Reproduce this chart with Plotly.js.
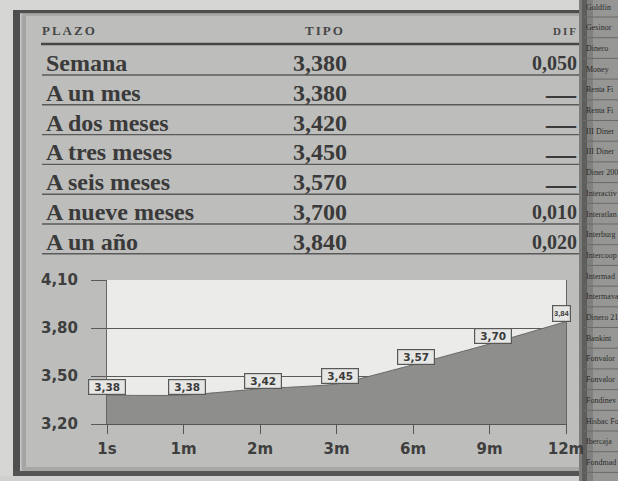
<!DOCTYPE html>
<html>
<head>
<meta charset="utf-8">
<script src="https://cdn.plot.ly/plotly-3.0.1.min.js"></script>
<style>
html,body{margin:0;padding:0;background:#d5d5d3;}
#chart{width:618px;height:481px;}
.annotation[data-index="0"] text,.annotation[data-index="1"] text,.annotation[data-index="2"] text{letter-spacing:2px;}
</style>
</head>
<body>
<div id="chart"></div>
<script>
// ---- data ----
var plazos = ["Semana","A un mes","A dos meses","A tres meses","A seis meses","A nueve meses","A un año"];
var tipos = [3.38, 3.38, 3.42, 3.45, 3.57, 3.70, 3.84];
var difs = ["0,050","—","—","—","—","0,010","0,020"];
var cats = ["1s","1m","2m","3m","6m","9m","12m"];
var yTicks = [3.2, 3.5, 3.8, 4.1];
var yTickText = ["3,20","3,50","3,80","4,10"];
var headers = ["PLAZO","TIPO","DIF"];
var stripNames = ["Goldfin","Gesinor","Dinero","Money","Renta Fi","Renta Fi","III Diner","III Diner","Diner 200","Interactiv","Interatlan","Interburg","Intercoop","Intermad","Intermava","Dinero 21","Bankint","Fonvalor","Fonvalor","Fondinev","Hisbac Fo","Ibercaja","Fondmad"];

// ---- pixel helpers (plot area: x 107..566, y 280..424) ----
var L=107, R=566, T=280, B=424;
function px(x){return (x-L)/(R-L);}
function py(y){return (B-y)/(B-T);}
function rect(x0,y0,x1,y1,c){return {type:'rect',xref:'paper',yref:'paper',x0:px(x0),x1:px(x1),y0:py(y1),y1:py(y0),fillcolor:c,line:{width:0},layer:'below'};}
function hline(x0,x1,y,c,w){return {type:'line',xref:'paper',yref:'paper',x0:px(x0),x1:px(x1),y0:py(y),y1:py(y),line:{color:c,width:w},layer:'below'};}
function comma(v,d){return v.toFixed(d).replace('.',',');}

var shapes = [];
// outer paper
shapes.push(rect(0,0,13,481,'#d5d5d3'));
shapes.push(rect(0,0,618,10,'#d5d5d3'));
shapes.push(rect(0,476,618,481,'#d0d0ce'));
// frame
shapes.push(rect(13,10,579,13.5,'#4e4e4e'));
shapes.push(rect(13,10,20,476,'#4e4e4e'));
shapes.push(rect(13,471,579,476,'#555555'));
shapes.push(rect(20,13.5,26,471,'#a4a4a2'));
shapes.push(rect(20,13.5,579,16,'#a8a8a6'));
shapes.push(rect(20,467,579,471,'#a8a8a6'));
shapes.push(rect(20,13.5,21.5,471,'#c8c8c6'));
// header line
shapes.push(hline(41,580,44,'#474747',2.5));
// row lines
for (var i=0;i<plazos.length;i++){
  shapes.push(hline(42,579,75+29.8*i,'#5a5a5a',1.4));
}
// right strip
shapes.push(rect(579,0,618,481,'#969694'));
shapes.push(rect(579,0,582,481,'#7c7c7a'));
shapes.push(rect(582,0,587,481,'#5e5e5c'));
shapes.push(rect(587,0,593,481,'#80807e'));
for (var k=0;k<stripNames.length;k++){
  shapes.push(hline(583,618,17+20.7*k,'#6a6a68',1));
}

var annotations = [];
var hFont = {family:'Liberation Serif',size:13,color:'#474747',weight:'bold'};
annotations.push({text:headers[0],xref:'paper',yref:'paper',x:px(45),y:py(30),xanchor:'left',yanchor:'middle',showarrow:false,font:hFont});
annotations.push({text:headers[1],xref:'paper',yref:'paper',x:px(325),y:py(30),xanchor:'center',yanchor:'middle',showarrow:false,font:hFont});
annotations.push({text:headers[2],xref:'paper',yref:'paper',x:px(577),y:py(31),xanchor:'right',yanchor:'middle',showarrow:false,
  font:{family:'Liberation Serif',size:11,color:'#474747',weight:'bold'}});

var rFont = {family:'Liberation Serif',size:24,color:'#3a3a3a',weight:'bold'};
var dFont = {family:'Liberation Serif',size:20,color:'#3a3a3a',weight:'bold'};
for (var i=0;i<plazos.length;i++){
  var yc = 63+29.8*i;
  annotations.push({text:plazos[i],xref:'paper',yref:'paper',x:px(44),y:py(yc),xanchor:'left',yanchor:'middle',showarrow:false,font:rFont});
  annotations.push({text:comma(tipos[i],3),xref:'paper',yref:'paper',x:px(320),y:py(yc),xanchor:'center',yanchor:'middle',showarrow:false,font:rFont});
  var isDash = difs[i]==="—";
  annotations.push({text:difs[i],xref:'paper',yref:'paper',x:px(579),y:py(yc+(isDash?1:0)),xanchor:'right',yanchor:'middle',showarrow:false,
    font:isDash?{family:'Liberation Serif',size:30,color:'#3a3a3a',weight:'bold'}:dFont});
}
for (var k=0;k<stripNames.length;k++){
  annotations.push({text:stripNames[k],xref:'paper',yref:'paper',x:px(584),y:py(7+20.7*k),xanchor:'left',yanchor:'middle',showarrow:false,
    font:{family:'Liberation Serif',size:8,color:'#2c2c2a'}});
}
// value labels on chart
for (var j=0;j<cats.length;j++){
  var last = (j===cats.length-1);
  annotations.push({text:comma(tipos[j],2),xref:'x',yref:'y',x:j,y:tipos[j],xanchor:'center',yanchor:'bottom',showarrow:false,
    xshift: last?-5:(j===0?0:3),
    bgcolor:'#e6e6e4',bordercolor:'#585858',borderwidth:1.2,borderpad:1,
    width: last?15:34, height: last?13:12,
    font:{family: last?'Liberation Sans':'DejaVu Sans',size: last?7.5:10.5,color:'#3a3a3a',weight:'bold'}});
}

var trace = {
  x: cats, y: tipos, type:'scatter', mode:'lines',
  fill:'tozeroy', fillcolor:'#8e8e8c',
  line:{color:'#6a6a6a',width:1,shape:'spline',smoothing:0.5},
  hoverinfo:'skip'
};

var layout = {
  width:618, height:481,
  margin:{l:107,r:52,t:280,b:57,pad:0},
  paper_bgcolor:'#bdbdbb', plot_bgcolor:'#ebebe9',
  showlegend:false,
  xaxis:{type:'category',range:[0,6],showgrid:false,zeroline:false,showline:true,linecolor:'#555',linewidth:1,
    ticks:'outside',ticklen:9,tickcolor:'#555',tickwidth:1,ticklabelstandoff:2,
    tickfont:{family:'DejaVu Sans',size:15,color:'#3e3e3e',weight:'bold'},fixedrange:true},
  yaxis:{range:[3.2,4.1],tickvals:yTicks,ticktext:yTickText,showgrid:true,gridcolor:'#5a5a5a',gridwidth:1,zeroline:false,
    showline:true,mirror:true,linecolor:'#666',linewidth:1,
    ticks:'outside',ticklen:15,tickcolor:'#5a5a5a',tickwidth:1,ticklabelstandoff:10,
    tickfont:{family:'DejaVu Sans',size:15,color:'#3e3e3e',weight:'bold'},fixedrange:true},
  shapes:shapes,
  annotations:annotations
};

Plotly.newPlot('chart',[trace],layout,{displayModeBar:false,staticPlot:true});
</script>
</body>
</html>
